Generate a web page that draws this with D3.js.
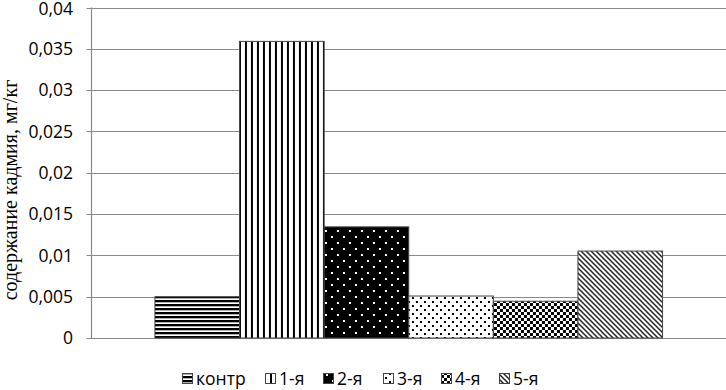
<!DOCTYPE html>
<html><head><meta charset="utf-8">
<script src="https://cdn.jsdelivr.net/npm/d3@7"></script>
<style>body{margin:0;background:#fff}svg{display:block}</style>
</head><body>
<svg id="c" width="726" height="390"></svg>
<script>
const categories = ["cat"];
const series = ["контр", "1-я", "2-я", "3-я", "4-я", "5-я"];
const values = [0.0050, 0.0359, 0.01345, 0.00508, 0.00445, 0.01052];
const yTicks = [0, 0.005, 0.01, 0.015, 0.02, 0.025, 0.03, 0.035, 0.04];
const yTickLabels = ["0", "0,005", "0,01", "0,015", "0,02", "0,025", "0,03", "0,035", "0,04"];
const yTitle = "содержание кадмия, мг/кг";

const svg = d3.select("#c");
const L = 91.5, R = 726, T = 7.5, B = 338;
const y = d3.scaleLinear().domain([0, 0.04]).range([B, T]);
const x0 = d3.scaleBand().domain(categories).range([L, R]).paddingInner(0).paddingOuter(0.125);
const x1 = d3.scaleBand().domain(series).range([0, x0.bandwidth()]).padding(0);

const defs = svg.append("defs");
function pat(id, w, h, draw) {
  const p = defs.append("pattern").attr("id", id).attr("patternUnits", "userSpaceOnUse")
    .attr("width", w).attr("height", h);
  draw(p);
}
pat("p0", 4, 4, p => {
  p.append("rect").attr("width", 4).attr("height", 4).attr("fill", "#fff");
  p.append("rect").attr("y", 0).attr("width", 4).attr("height", 2.3).attr("fill", "#000");
});
pat("p1", 6, 6, p => {
  p.append("rect").attr("width", 6).attr("height", 6).attr("fill", "#fff");
  p.append("rect").attr("x", 0).attr("width", 2).attr("height", 6).attr("fill", "#000");
});
pat("p2", 12, 12, p => {
  p.append("rect").attr("width", 12).attr("height", 12).attr("fill", "#000");
  p.append("rect").attr("x", 2).attr("y", 2).attr("width", 2).attr("height", 2).attr("fill", "#fff");
  p.append("rect").attr("x", 8).attr("y", 8).attr("width", 2).attr("height", 2).attr("fill", "#fff");
});
pat("p3", 8, 8, p => {
  p.append("rect").attr("width", 8).attr("height", 8).attr("fill", "#fff");
  p.append("rect").attr("x", 1).attr("y", 1).attr("width", 2).attr("height", 2).attr("fill", "#000");
  p.append("rect").attr("x", 5).attr("y", 5).attr("width", 2).attr("height", 2).attr("fill", "#000");
});
pat("p4", 6, 6, p => {
  p.append("rect").attr("width", 6).attr("height", 6).attr("fill", "#fff");
  p.append("rect").attr("x", 0).attr("y", 0).attr("width", 3).attr("height", 3).attr("fill", "#000");
  p.append("rect").attr("x", 3).attr("y", 3).attr("width", 3).attr("height", 3).attr("fill", "#000");
});
pat("p5", 5, 5, p => {
  p.append("rect").attr("width", 5).attr("height", 5).attr("fill", "#fff");
  p.append("path").attr("d", "M0,0L5,5M-1,4L1,6M4,-1L6,1").attr("stroke", "#222").attr("stroke-width", 1.5);
});

const grid = svg.append("g");
grid.selectAll("line").data(yTicks).join("line")
  .attr("x1", L - 5).attr("x2", R)
  .attr("y1", d => Math.round(y(d)) + 0.5).attr("y2", d => Math.round(y(d)) + 0.5)
  .attr("stroke", "#8a8a8a").attr("stroke-width", 1.2);

svg.append("line").attr("x1", L).attr("x2", L).attr("y1", T).attr("y2", B + 0.5)
  .attr("stroke", "#8a8a8a").attr("stroke-width", 1.2);

svg.append("g").selectAll("text").data(yTicks).join("text")
  .attr("x", 73).attr("y", d => Math.max(y(d), 8.5)).attr("dy", "0.36em")
  .attr("text-anchor", "end")
  .attr("font-family", "'Open Sans', sans-serif").attr("font-size", 17.5).attr("fill", "#000")
  .text((d, i) => yTickLabels[i]);

const g = svg.append("g").attr("transform", `translate(${x0(categories[0])},0)`);
g.selectAll("rect").data(values).join("rect")
  .attr("x", (d, i) => x1(series[i]))
  .attr("y", d => y(d))
  .attr("width", x1.bandwidth())
  .attr("height", d => B - y(d))
  .attr("fill", (d, i) => `url(#p${i})`)
  .attr("stroke", "#444").attr("stroke-width", 1);

svg.append("text")
  .attr("transform", `translate(17,${190}) rotate(-90)`)
  .attr("text-anchor", "middle")
  .attr("font-family", "'Liberation Serif', 'Times New Roman', serif").attr("font-size", 20)
  .attr("fill", "#000").text(yTitle);

const legX = [182, 265, 323, 383, 441, 499];
const leg = svg.append("g");
series.forEach((s, i) => {
  leg.append("rect").attr("x", legX[i] + 0.5).attr("y", 373.5).attr("width", 10).attr("height", 10)
    .attr("fill", `url(#p${i})`).attr("stroke", "#444").attr("stroke-width", 1);
  leg.append("text").attr("x", legX[i] + 14).attr("y", 385)
    .attr("font-family", "'Open Sans', sans-serif").attr("font-size", 17.5).attr("fill", "#000").text(s);
});
</script>
</body></html>
